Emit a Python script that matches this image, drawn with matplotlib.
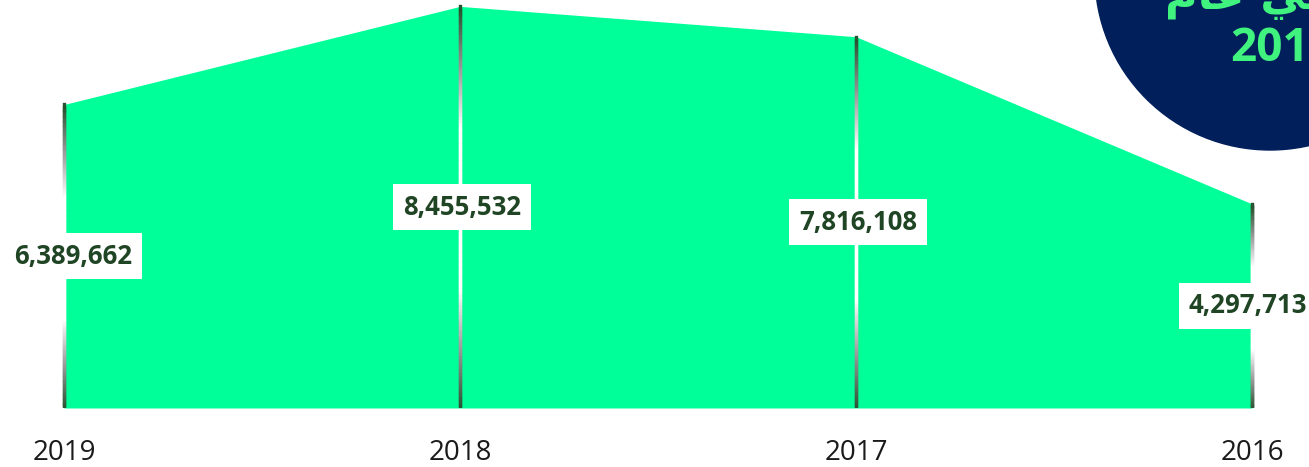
import numpy as np
import matplotlib
matplotlib.use("Agg")
import matplotlib.pyplot as plt
from matplotlib.collections import LineCollection
from matplotlib.patches import Circle
from matplotlib.colors import LinearSegmentedColormap

# data
years = ["2019", "2018", "2017", "2016"]
values = [6389662, 8455532, 7816108, 4297713]

FILL = "#00FF99"
NAVY = "#001F5B"
LABEL_GREEN = "#1F4524"
BADGE_GREEN = "#40F27E"

fig = plt.figure(figsize=(13.09, 4.67), dpi=100, facecolor="white")
ax = fig.add_axes([0, 59 / 467, 1, 408 / 467])

x = np.arange(len(years))
ax.fill_between(x, 0, values, color=FILL, linewidth=0, zorder=1)

# vertical lines: dark green at both ends, fading through grey to white in the middle
grad = LinearSegmentedColormap.from_list("drop", ["#25502D", "#9A9A9A", "#FFFFFF"])
for xi, v in zip(x, values):
    t = np.linspace(0, 1, 120)
    pts = np.column_stack([np.full_like(t, xi), t * v])
    segs = np.stack([pts[:-1], pts[1:]], axis=1)
    tm = (t[:-1] + t[1:]) / 2
    w = np.clip(np.minimum(tm / 0.3, (1 - tm) / 0.3), 0, 1)
    ax.add_collection(LineCollection(segs, colors=grad(w), linewidths=2.4,
                                     capstyle="projecting", zorder=2))

# value labels in white boxes at half height; edge labels nudged inwards
for i, (xi, v) in enumerate(zip(x, values)):
    dx = 9 if i == 0 else (-4 if i == len(values) - 1 else 2)
    ax.annotate(f"{v:,}", (xi, v / 2), xytext=(dx, 0), textcoords="offset pixels",
                ha="center", va="center", fontsize=18.5, fontweight="bold",
                family="Open Sans", color=LABEL_GREEN, zorder=4,
                bbox=dict(boxstyle="square,pad=0.37", fc="white", ec="none"))

ax.set_xlim(-64 / 396, (1309 - 64) / 396)
ax.set_ylim(0, 408 / 47.5 * 1e6)
ax.set_xticks(x)
ax.set_xticklabels(years, fontsize=20, family="Open Sans", color="#1A1A1A")
ax.tick_params(axis="x", length=0, pad=22)
ax.set_yticks([])
for s in ax.spines.values():
    s.set_visible(False)
ax.patch.set_alpha(0)

# navy badge in the top right corner
ov = fig.add_axes([0, 0, 1, 1], zorder=5)
ov.set_xlim(0, 1309)
ov.set_ylim(467, 0)
ov.axis("off")
ov.patch.set_alpha(0)
ov.add_patch(Circle((1270, -25), 175, color=NAVY, zorder=1))
ov.text(1165, 9, "\ufee1\ufe8e\ufecb \ufef2\ufed3", ha="left", va="baseline",
        fontsize=32, fontweight="bold", family=["DejaVu Sans"], color=BADGE_GREEN, zorder=2)
ov.text(1230, 61, "2019", ha="left", va="baseline", fontsize=33, fontweight="bold",
        family="Open Sans", color=BADGE_GREEN, zorder=2)

fig.savefig("out.png", dpi=100, facecolor="white")
